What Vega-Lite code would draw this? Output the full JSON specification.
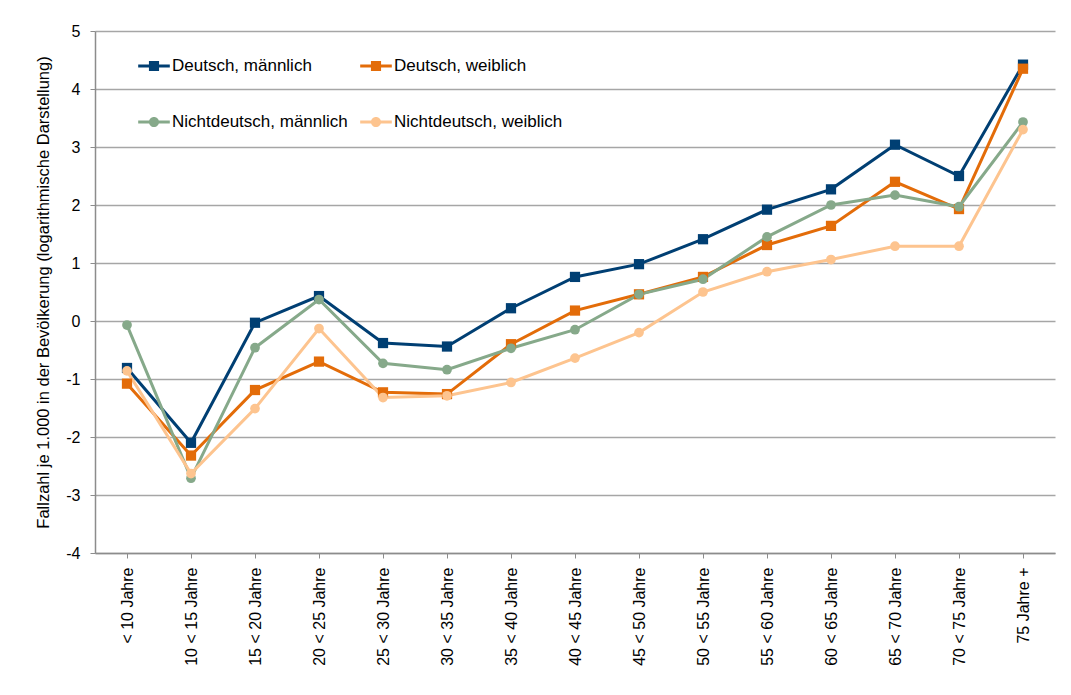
{
  "$schema": "https://vega.github.io/schema/vega-lite/v6.json",
  "autosize": "none",
  "width": 960,
  "height": 522,
  "padding": {"left": 95, "top": 31, "right": 16, "bottom": 142},
  "background": "white",
  "config": {
    "font": "Liberation Sans",
    "view": {"stroke": null},
    "axis": {
      "labelFont": "Liberation Sans",
      "titleFont": "Liberation Sans",
      "labelColor": "#000000",
      "titleColor": "#000000",
      "labelFontSize": 16,
      "titleFontSize": 16.5,
      "titleFontWeight": "normal",
      "domainColor": "#8c8c8c",
      "domainWidth": 1.5,
      "tickColor": "#8c8c8c",
      "tickWidth": 1,
      "tickSize": 5,
      "gridColor": "#a6a6a6",
      "gridWidth": 1.5
    }
  },
  "data": {
    "values": [
      {"age": "< 10 Jahre", "series": "Deutsch, männlich", "value": -0.81},
      {"age": "10 < 15 Jahre", "series": "Deutsch, männlich", "value": -2.10},
      {"age": "15 < 20 Jahre", "series": "Deutsch, männlich", "value": -0.03},
      {"age": "20 < 25 Jahre", "series": "Deutsch, männlich", "value": 0.43},
      {"age": "25 < 30 Jahre", "series": "Deutsch, männlich", "value": -0.38},
      {"age": "30 < 35 Jahre", "series": "Deutsch, männlich", "value": -0.44},
      {"age": "35 < 40 Jahre", "series": "Deutsch, männlich", "value": 0.22},
      {"age": "40 < 45 Jahre", "series": "Deutsch, männlich", "value": 0.76},
      {"age": "45 < 50 Jahre", "series": "Deutsch, männlich", "value": 0.98},
      {"age": "50 < 55 Jahre", "series": "Deutsch, männlich", "value": 1.41},
      {"age": "55 < 60 Jahre", "series": "Deutsch, männlich", "value": 1.92},
      {"age": "60 < 65 Jahre", "series": "Deutsch, männlich", "value": 2.27},
      {"age": "65 < 70 Jahre", "series": "Deutsch, männlich", "value": 3.04},
      {"age": "70 < 75 Jahre", "series": "Deutsch, männlich", "value": 2.50},
      {"age": "75 Jahre +", "series": "Deutsch, männlich", "value": 4.42},
      {"age": "< 10 Jahre", "series": "Deutsch, weiblich", "value": -1.08},
      {"age": "10 < 15 Jahre", "series": "Deutsch, weiblich", "value": -2.32},
      {"age": "15 < 20 Jahre", "series": "Deutsch, weiblich", "value": -1.19},
      {"age": "20 < 25 Jahre", "series": "Deutsch, weiblich", "value": -0.70},
      {"age": "25 < 30 Jahre", "series": "Deutsch, weiblich", "value": -1.23},
      {"age": "30 < 35 Jahre", "series": "Deutsch, weiblich", "value": -1.26},
      {"age": "35 < 40 Jahre", "series": "Deutsch, weiblich", "value": -0.40},
      {"age": "40 < 45 Jahre", "series": "Deutsch, weiblich", "value": 0.18},
      {"age": "45 < 50 Jahre", "series": "Deutsch, weiblich", "value": 0.46},
      {"age": "50 < 55 Jahre", "series": "Deutsch, weiblich", "value": 0.76},
      {"age": "55 < 60 Jahre", "series": "Deutsch, weiblich", "value": 1.31},
      {"age": "60 < 65 Jahre", "series": "Deutsch, weiblich", "value": 1.64},
      {"age": "65 < 70 Jahre", "series": "Deutsch, weiblich", "value": 2.40},
      {"age": "70 < 75 Jahre", "series": "Deutsch, weiblich", "value": 1.93},
      {"age": "75 Jahre +", "series": "Deutsch, weiblich", "value": 4.35},
      {"age": "< 10 Jahre", "series": "Nichtdeutsch, männlich", "value": -0.07},
      {"age": "10 < 15 Jahre", "series": "Nichtdeutsch, männlich", "value": -2.71},
      {"age": "15 < 20 Jahre", "series": "Nichtdeutsch, männlich", "value": -0.46},
      {"age": "20 < 25 Jahre", "series": "Nichtdeutsch, männlich", "value": 0.37},
      {"age": "25 < 30 Jahre", "series": "Nichtdeutsch, männlich", "value": -0.73},
      {"age": "30 < 35 Jahre", "series": "Nichtdeutsch, männlich", "value": -0.84},
      {"age": "35 < 40 Jahre", "series": "Nichtdeutsch, männlich", "value": -0.47},
      {"age": "40 < 45 Jahre", "series": "Nichtdeutsch, männlich", "value": -0.15},
      {"age": "45 < 50 Jahre", "series": "Nichtdeutsch, männlich", "value": 0.46},
      {"age": "50 < 55 Jahre", "series": "Nichtdeutsch, männlich", "value": 0.72},
      {"age": "55 < 60 Jahre", "series": "Nichtdeutsch, männlich", "value": 1.45},
      {"age": "60 < 65 Jahre", "series": "Nichtdeutsch, männlich", "value": 2.00},
      {"age": "65 < 70 Jahre", "series": "Nichtdeutsch, männlich", "value": 2.17},
      {"age": "70 < 75 Jahre", "series": "Nichtdeutsch, männlich", "value": 1.97},
      {"age": "75 Jahre +", "series": "Nichtdeutsch, männlich", "value": 3.43},
      {"age": "< 10 Jahre", "series": "Nichtdeutsch, weiblich", "value": -0.86},
      {"age": "10 < 15 Jahre", "series": "Nichtdeutsch, weiblich", "value": -2.63},
      {"age": "15 < 20 Jahre", "series": "Nichtdeutsch, weiblich", "value": -1.51},
      {"age": "20 < 25 Jahre", "series": "Nichtdeutsch, weiblich", "value": -0.13},
      {"age": "25 < 30 Jahre", "series": "Nichtdeutsch, weiblich", "value": -1.32},
      {"age": "30 < 35 Jahre", "series": "Nichtdeutsch, weiblich", "value": -1.29},
      {"age": "35 < 40 Jahre", "series": "Nichtdeutsch, weiblich", "value": -1.06},
      {"age": "40 < 45 Jahre", "series": "Nichtdeutsch, weiblich", "value": -0.64},
      {"age": "45 < 50 Jahre", "series": "Nichtdeutsch, weiblich", "value": -0.20},
      {"age": "50 < 55 Jahre", "series": "Nichtdeutsch, weiblich", "value": 0.50},
      {"age": "55 < 60 Jahre", "series": "Nichtdeutsch, weiblich", "value": 0.85},
      {"age": "60 < 65 Jahre", "series": "Nichtdeutsch, weiblich", "value": 1.06},
      {"age": "65 < 70 Jahre", "series": "Nichtdeutsch, weiblich", "value": 1.29},
      {"age": "70 < 75 Jahre", "series": "Nichtdeutsch, weiblich", "value": 1.29},
      {"age": "75 Jahre +", "series": "Nichtdeutsch, weiblich", "value": 3.30}
    ]
  },
  "encoding": {
    "x": {
      "field": "age",
      "type": "ordinal",
      "sort": null,
      "scale": {"type": "point", "padding": 0.5},
      "axis": {"title": null, "labelAngle": -90, "labelPadding": 9, "grid": false}
    },
    "y": {
      "field": "value",
      "type": "quantitative",
      "scale": {"domain": [-4, 5], "nice": false, "zero": false},
      "axis": {
        "title": "Fallzahl je 1.000 in der Bevölkerung (logarithmische Darstellung)",
        "values": [-4, -3, -2, -1, 0, 1, 2, 3, 4, 5],
        "labelExpr": "'' + datum.value",
        "labelPadding": 10,
        "titlePadding": 14
      }
    },
    "color": {
      "field": "series",
      "type": "nominal",
      "scale": {
        "domain": ["Deutsch, männlich", "Deutsch, weiblich", "Nichtdeutsch, männlich", "Nichtdeutsch, weiblich"],
        "range": ["#003f73", "#e36c09", "#86a98a", "#fdc48f"]
      },
      "legend": {
        "orient": "none",
        "legendX": 43,
        "legendY": 19,
        "title": null,
        "values": ["Deutsch, männlich", "Nichtdeutsch, männlich", "Deutsch, weiblich", "Nichtdeutsch, weiblich"],
        "columns": 2,
        "columnPadding": 12,
        "rowPadding": 32,
        "labelFont": "Liberation Sans",
        "labelFontSize": 17,
        "labelColor": "#000000",
        "labelLimit": 0,
        "labelOffset": 2,
        "symbolSize": 1000,
        "symbolStrokeWidth": 0,
        "symbolOpacity": 1,
        "encoding": {
          "symbols": {
            "shape": {"value": {"expr": "indexof(datum.value, 'Nicht') === 0 ? 'M-1,-0.095H1V0.095H-1Z M-0.32,0A0.32,0.32,0,1,1,0.32,0A0.32,0.32,0,1,1,-0.32,0Z' : 'M-1,-0.095H1V0.095H-1Z M-0.32,-0.32H0.32V0.32H-0.32Z'"}},
            "fill": {"value": {"expr": "scale('color', datum.value)"}},
            "stroke": {"value": {"expr": "scale('color', datum.value)"}},
            "strokeWidth": {"value": 0},
            "opacity": {"value": 1}
          }
        }
      }
    }
  },
  "layer": [
    {
      "mark": {"type": "line", "strokeWidth": 3}
    },
    {
      "transform": [{"filter": {"field": "series", "oneOf": ["Deutsch, männlich", "Deutsch, weiblich"]}}],
      "mark": {"type": "point", "shape": "square", "filled": true, "opacity": 1, "size": 105}
    },
    {
      "transform": [{"filter": {"field": "series", "oneOf": ["Nichtdeutsch, männlich", "Nichtdeutsch, weiblich"]}}],
      "mark": {"type": "point", "shape": "circle", "filled": true, "opacity": 1, "size": 95}
    }
  ]
}
